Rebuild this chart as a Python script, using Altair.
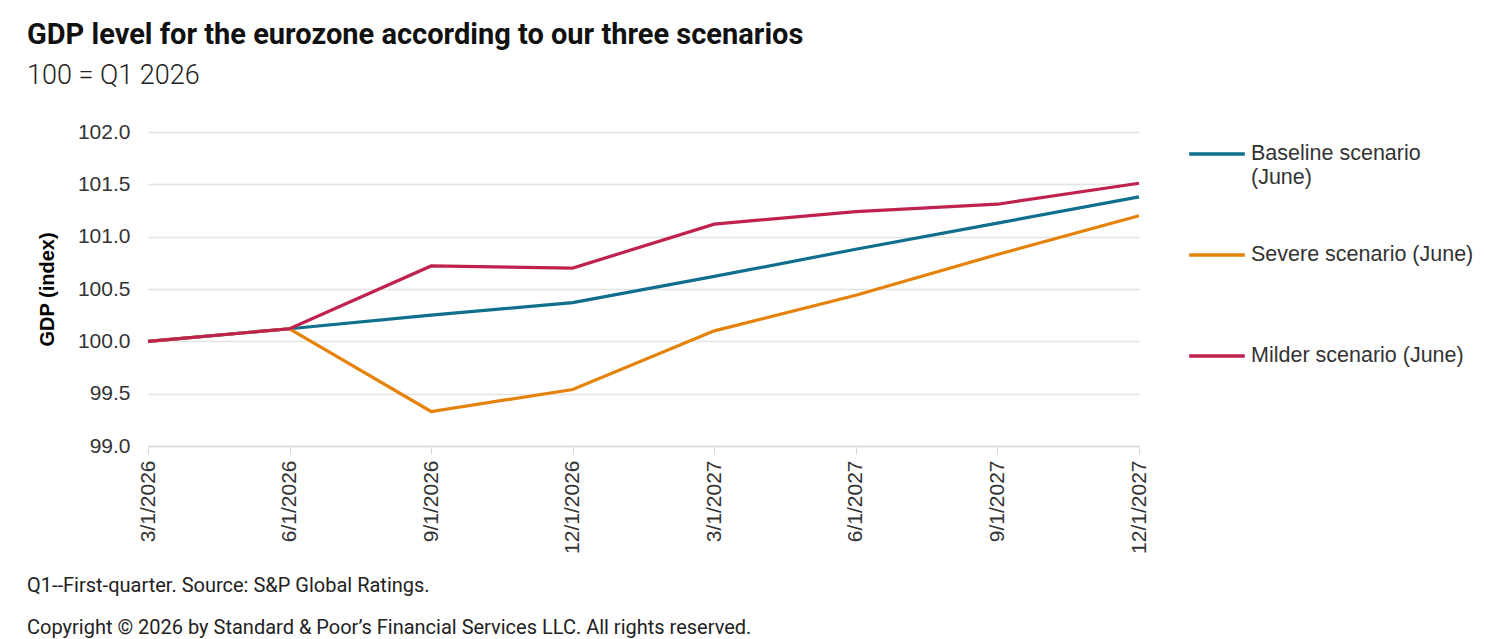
import altair as alt
import pandas as pd

dates = ["3/1/2026", "6/1/2026", "9/1/2026", "12/1/2026",
         "3/1/2027", "6/1/2027", "9/1/2027", "12/1/2027"]
baseline = [100.0, 100.12, 100.25, 100.37, 100.62, 100.88, 101.13, 101.38]
severe = [100.0, 100.12, 99.33, 99.54, 100.10, 100.44, 100.83, 101.20]
milder = [100.0, 100.12, 100.72, 100.70, 101.12, 101.24, 101.31, 101.51]
series = ["Baseline scenario (June)", "Severe scenario (June)", "Milder  scenario (June)"]
colors = ["#0f6f8d", "#e5820a", "#c0224f"]

rows = []
for name, vals in zip(series, [baseline, severe, milder]):
    for d, v in zip(dates, vals):
        rows.append({"date": d, "value": v, "scenario": name})
df = pd.DataFrame(rows)

FONT = "Liberation Sans"
NARROW = "Roboto"

lines = alt.Chart(df).mark_line(strokeWidth=3.2).encode(
    x=alt.X("date:O", sort=dates, scale=alt.Scale(type="point", padding=0),
            axis=alt.Axis(title=None, labelAngle=270, labelAlign="right", labelBaseline="middle",
                          labelFontSize=21, labelColor="#333333", labelFont=FONT,
                          labelPadding=6, tickSize=8, tickColor="#d9d9d9",
                          domainColor="#d9d9d9", domainWidth=1.5, grid=False)),
    y=alt.Y("value:Q", scale=alt.Scale(domain=[99, 102], nice=False, zero=False),
            axis=alt.Axis(title="GDP (index)", values=[99, 99.5, 100, 100.5, 101, 101.5, 102],
                          format=".1f", labelFontSize=21, labelColor="#333333", labelFont=FONT,
                          titleFont=FONT, titleFontSize=20, titleFontWeight="bold", titleColor="#000000",
                          titlePadding=20, ticks=False, domain=False, labelPadding=18,
                          gridColor="#e3e3e3", gridWidth=1.5)),
    color=alt.Color("scenario:N", sort=series,
                    scale=alt.Scale(domain=series, range=colors),
                    legend=alt.Legend(title=None, orient="none", legendX=1039, legendY=-8,
                                      symbolType="stroke", symbolSize=3100, symbolStrokeWidth=3.5,
                                      labelFontSize=21.5, labelFont=FONT, labelColor="#333333",
                                      labelLimit=500, rowPadding=37, labelOffset=4,
                                      labelExpr="datum.label == 'Baseline scenario (June)' ? ['Baseline scenario', '(June)'] : [datum.label, ' ']")),
)

foot = pd.DataFrame({"t": ["Q1--First-quarter. Source: S&P Global Ratings.",
                           "Copyright \u00a9 2026 by Standard & Poor\u2019s Financial Services LLC. All rights reserved."],
                     "yy": [454, 496]})
footer = alt.Chart(foot).mark_text(align="left", baseline="middle", fontSize=20, font=NARROW,
                                   color="#222222").encode(
    x=alt.value(-121), y=alt.Y("yy:Q", scale=None), text="t:N")

chart = alt.layer(lines, footer).properties(
    width=991, height=314,
    background="white",
    title=alt.TitleParams(text="GDP level for the eurozone according to our three scenarios",
                          subtitle="100 = Q1 2026", anchor="start", frame="group", dx=-121,
                          font=NARROW, fontSize=29, fontWeight="bold", color="#111111",
                          subtitleFont=NARROW, subtitleFontSize=27, subtitleColor="#222222",
                          subtitleFontWeight=300, subtitlePadding=13, offset=32),
    autosize=alt.AutoSizeParams(type="none"),
    padding={"left": 148, "top": 132, "right": 361, "bottom": 193},
).configure_view(stroke=None)

chart.save("out.html", embed_options={"renderer": "svg", "actions": False})
